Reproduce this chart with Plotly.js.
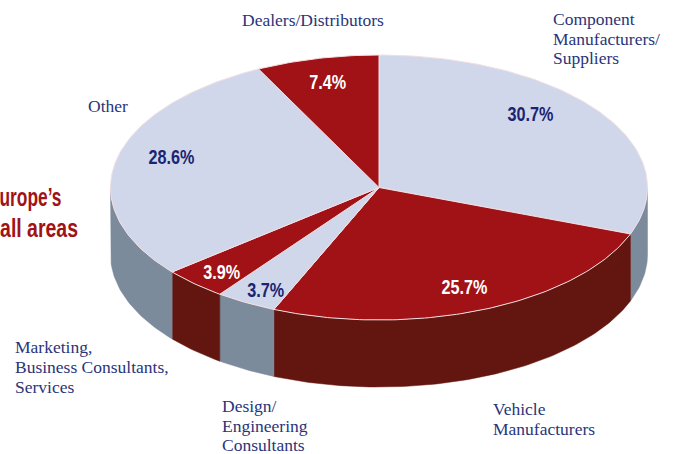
<!DOCTYPE html>
<html>
<head>
<meta charset="utf-8">
<script src="https://cdn.plot.ly/plotly-3.0.1.min.js"></script>
<style>html,body{margin:0;padding:0;background:#fff;overflow:hidden}#c{width:678px;height:454px}</style>
</head>
<body>
<div id="c"></div>
<script>
// Data, clockwise from 12 o'clock
const categories = ["Component<br>Manufacturers/<br>Suppliers","Vehicle<br>Manufacturers","Design/<br>Engineering<br>Consultants","Marketing,<br>Business Consultants,<br>Services","Other","Dealers/Distributors"];
const values = [30.7,25.7,3.7,3.9,28.6,7.4];
const tones = ["light","red","light","red","light","red"];
const headline = ["urope’s","all areas"];

// Presentation
const G = {cx:379, cy:187.5, rx:268.5, ry:132.5, depth:67};
const topColor = {light:"#d0d7ea", red:"#a11216"};
const sideColor = {light:"#7c8b9c", red:"#63150f"};
const pctColor = {light:"#1c2472", red:"#ffffff"};
const pctPos = [[530,114],[464,287],[266,290],[222,272],[171,157],[328,82]];
const nameX = [551,491,220,13,86,240];
const nameY = [[19,39,58],[409,429],[406,426,445],[347,367,387],[106],[20]];
const headPos = [[30,197,62],[39,228,78]];
const serif = "Liberation Serif, serif";
const sans = "Liberation Sans, Arial, sans-serif";
const pctSqueeze = 0.81;

function pt(deg, dy){
  const a = deg*Math.PI/180;
  return [G.cx + G.rx*Math.sin(a), G.cy - G.ry*Math.cos(a) + (dy||0)];
}
function arc(a0,a1,dy){
  const out=[], n=Math.max(2,Math.ceil(Math.abs(a1-a0)));
  for(let i=0;i<=n;i++) out.push(pt(a0+(a1-a0)*i/n,dy));
  return out;
}
const total = values.reduce((s,v)=>s+v,0);
let acc=0;
const slices = values.map((v,i)=>{const a0=acc/total*360; acc+=v; return {i,a0,a1:acc/total*360,tone:tones[i]};});

function poly(points,fill,line,w){
  return {type:"scatter",mode:"lines",x:points.map(p=>p[0]),y:points.map(p=>p[1]),
    fill:"toself",fillcolor:fill,line:{color:line,width:w},hoverinfo:"skip",showlegend:false};
}
const traces=[];
// Side wall: only the front half of the rim is visible
slices.forEach(s=>{
  const a0=Math.max(s.a0,90), a1=Math.min(s.a1,270);
  if(a1<=a0) return;
  const pts=arc(a0,a1,0).concat(arc(a1,a0,G.depth));
  pts.push(pts[0]);
  traces.push(poly(pts,sideColor[s.tone],sideColor[s.tone],0.5));
});
// Top face
slices.forEach(s=>{
  const pts=[[G.cx,G.cy]].concat(arc(s.a0,s.a1,0)); pts.push([G.cx,G.cy]);
  traces.push(poly(pts,topColor[s.tone],"#f3dfe3",1));
});

const annotations=[], squeeze=[];
slices.forEach((s,i)=>{
  squeeze[annotations.length]=pctSqueeze;
  annotations.push({x:pctPos[i][0],y:pctPos[i][1],xref:"x",yref:"y",showarrow:false,xanchor:"center",yanchor:"middle",
    text:values[i].toFixed(1)+"%",font:{family:sans,size:20,color:pctColor[s.tone],weight:700}});
  categories[i].split("<br>").forEach((line,j)=>{
    annotations.push({x:nameX[i],y:nameY[i][j],xref:"x",yref:"y",showarrow:false,xanchor:"left",yanchor:"middle",align:"left",
      text:line,font:{family:serif,size:17.5,color:"#2a3479"}});
  });
});
const headTarget=[];
headline.forEach((t,i)=>{
  headTarget[annotations.length]=headPos[i][2];
  annotations.push({x:headPos[i][0],y:headPos[i][1],xref:"x",yref:"y",showarrow:false,xanchor:"center",yanchor:"middle",
    text:t,font:{family:sans,size:26,color:"#a11216",weight:700}});
});

Plotly.newPlot("c",traces,{
  width:678,height:454,margin:{l:0,r:0,t:0,b:0},
  paper_bgcolor:"#fff",plot_bgcolor:"#fff",showlegend:false,
  xaxis:{range:[0,678],visible:false,fixedrange:true},
  yaxis:{range:[454,0],visible:false,fixedrange:true},
  annotations
},{staticPlot:true,displayModeBar:false}).then(gd=>{
  // Condensed face of the original: narrow the bold labels
  gd.querySelectorAll(".annotation").forEach(node=>{
    const idx=+node.getAttribute("data-index");
    const txt=node.querySelector("text");
    if(!txt) return;
    let len=null;
    if(squeeze[idx]) len=txt.getComputedTextLength()*squeeze[idx];
    if(headTarget[idx]) len=headTarget[idx];
    if(len){ txt.setAttribute("textLength",len); txt.setAttribute("lengthAdjust","spacingAndGlyphs"); }
  });
});
</script>
</body>
</html>
